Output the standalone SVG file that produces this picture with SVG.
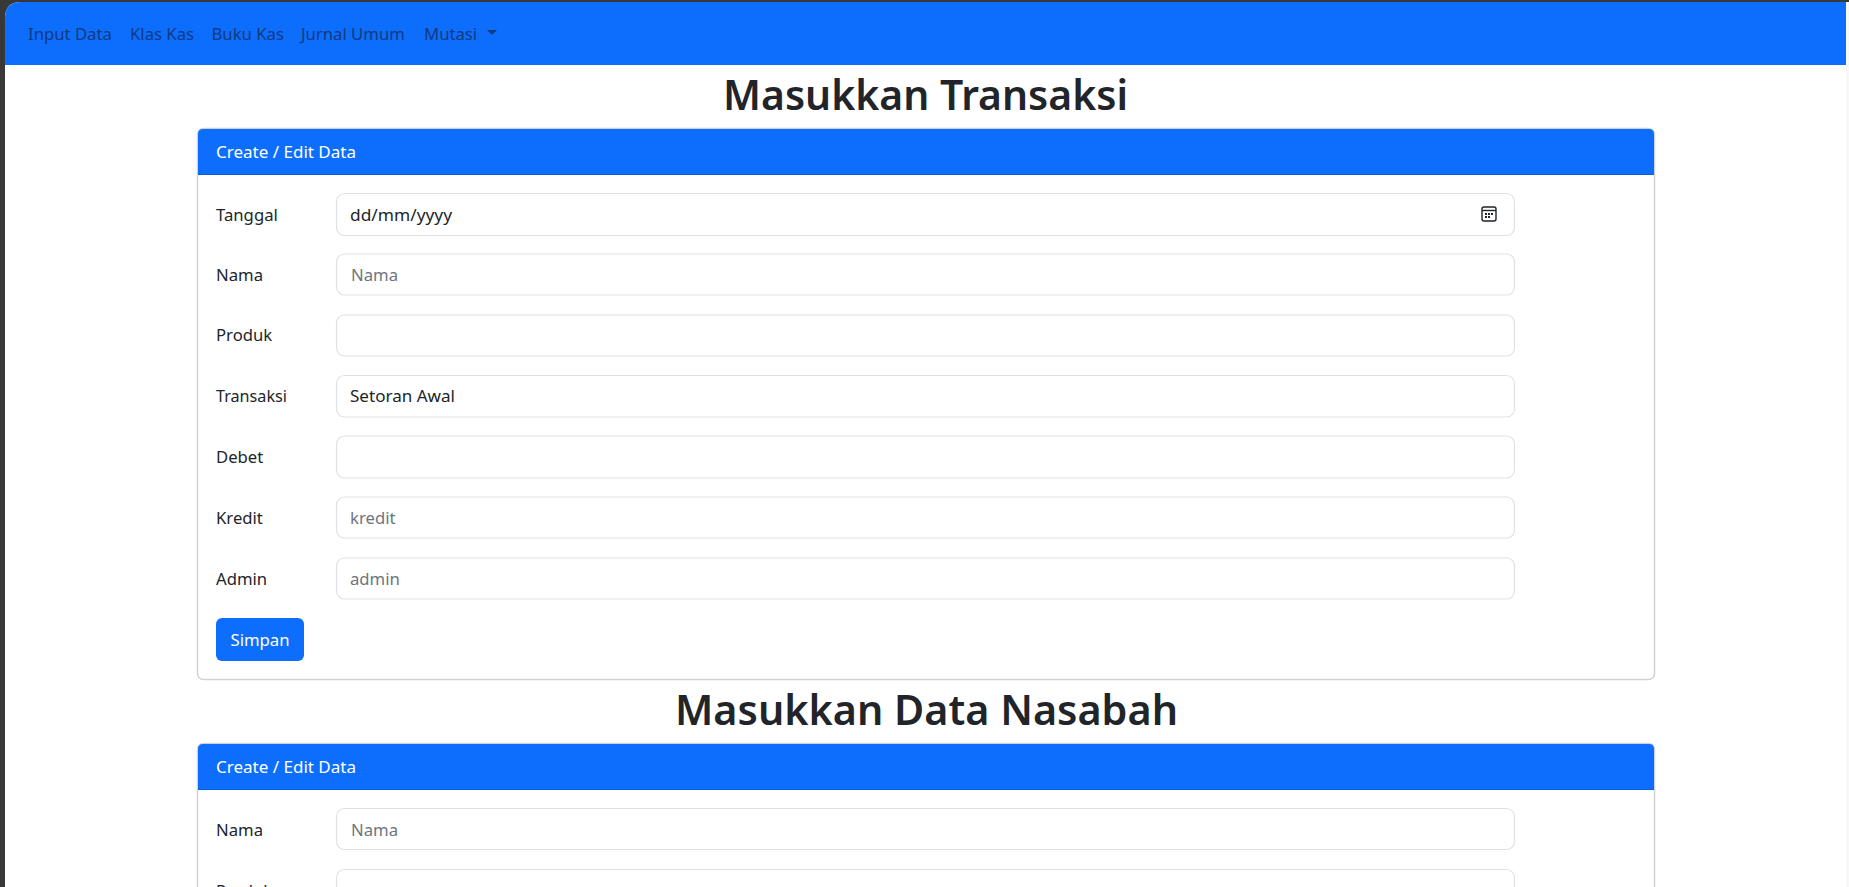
<svg xmlns="http://www.w3.org/2000/svg" width="1849" height="887" viewBox="0 0 1849 887">
<style>
text{font-family:"Noto Sans","Open Sans","Liberation Sans",sans-serif;font-size:16.7px;fill:#212529}
.nav{fill:#0f3a80}
.h{font-size:41.3px;font-weight:600}
.w{fill:#fff}
.ph{fill:#6c757d}
.in{fill:#fff;stroke:#dee2e6;stroke-width:1.2}
.card{fill:#fff;stroke:#cfd1d4;stroke-width:1.5}
</style>
<rect width="1849" height="887" fill="#383838"/>
<path d="M5 887V18Q5 2 21 2H1849V887Z" fill="#fff"/>
<rect x="1846" y="2" width="3" height="885" fill="#f8f8f8"/>
<g id="navbar">
<path d="M5 65V18Q5 2 21 2H1846V65Z" fill="#0d6efd"/>
<text class="nav" x="28" y="40">Input Data</text>
<text class="nav" x="130" y="40">Klas Kas</text>
<text class="nav" x="211.500" y="40">Buku Kas</text>
<text class="nav" x="301" y="40">Jurnal Umum</text>
<text class="nav" x="424" y="40">Mutasi</text>
<path d="M487 30h10l-5 5z" fill="#0f3a80"/>
</g>
<text id="title1" class="h" x="723" y="110" textLength="405" lengthAdjust="spacingAndGlyphs">Masukkan Transaksi</text>
<g id="card1">
<rect class="card" x="197.500" y="128.500" width="1457" height="551" rx="6"/>
<path d="M198 175V134Q198 129 203 129H1649Q1654 129 1654 134V175Z" fill="#0d6efd"/>
<rect x="198" y="174" width="1456" height="1" fill="#0b5ed7"/>
<text class="w" x="216" y="158" textLength="140" lengthAdjust="spacingAndGlyphs">Create / Edit Data</text>
</g>
<g id="row-tanggal"><text x="216" y="221">Tanggal</text><rect class="in" x="336.500" y="193.500" width="1178" height="42" rx="8"/><text x="350" y="221" textLength="102" lengthAdjust="spacingAndGlyphs">dd/mm/yyyy</text>
<g fill="none" stroke="#212529" stroke-width="1.4"><rect x="1482" y="207" width="14" height="14" rx="2"/><path d="M1482 210.500h14"/></g><path d="M1485 213h2v2h-2zM1488 213h2v2h-2zM1491 213h2v2h-2zM1485 216h2v2h-2zM1488 216h2v2h-2z" fill="#212529"/></g>
<g id="row-nama"><text x="216" y="281">Nama</text><rect class="in" x="336.500" y="254" width="1178" height="41" rx="8"/><text class="ph" x="351" y="281">Nama</text></g>
<g id="row-produk"><text x="216" y="341">Produk</text><rect class="in" x="336.500" y="315" width="1178" height="41" rx="8"/></g>
<g id="row-transaksi"><text x="216" y="402" textLength="71" lengthAdjust="spacingAndGlyphs">Transaksi</text><rect class="in" x="336.500" y="375.500" width="1178" height="41.500" rx="8"/><text x="350" y="402" textLength="105" lengthAdjust="spacingAndGlyphs">Setoran Awal</text></g>
<g id="row-debet"><text x="216" y="463">Debet</text><rect class="in" x="336.500" y="436" width="1178" height="42" rx="8"/></g>
<g id="row-kredit"><text x="216" y="524">Kredit</text><rect class="in" x="336.500" y="497" width="1178" height="41" rx="8"/><text class="ph" x="350" y="524">kredit</text></g>
<g id="row-admin"><text x="216" y="585">Admin</text><rect class="in" x="336.500" y="558" width="1178" height="41" rx="8"/><text class="ph" x="350" y="585">admin</text></g>
<g id="btn-simpan"><rect x="216" y="618" width="88" height="43" rx="6" fill="#0d6efd"/><text class="w" x="260" y="646" text-anchor="middle">Simpan</text></g>
<text id="title2" class="h" x="675" y="725" textLength="503" lengthAdjust="spacingAndGlyphs">Masukkan Data Nasabah</text>
<g id="card2">
<rect class="card" x="197.500" y="743.500" width="1457" height="160" rx="6"/>
<path d="M198 790V749Q198 744 203 744H1649Q1654 744 1654 749V790Z" fill="#0d6efd"/>
<rect x="198" y="789" width="1456" height="1" fill="#0b5ed7"/>
<text class="w" x="216" y="773" textLength="140" lengthAdjust="spacingAndGlyphs">Create / Edit Data</text>
</g>
<g id="row2-nama"><text x="216" y="836">Nama</text><rect class="in" x="336.500" y="808.500" width="1178" height="41" rx="8"/><text class="ph" x="351" y="836">Nama</text></g>
<g id="row2-produk"><text x="216" y="897">Produk</text><rect class="in" x="336.500" y="869.500" width="1178" height="41" rx="8"/></g>
</svg>
